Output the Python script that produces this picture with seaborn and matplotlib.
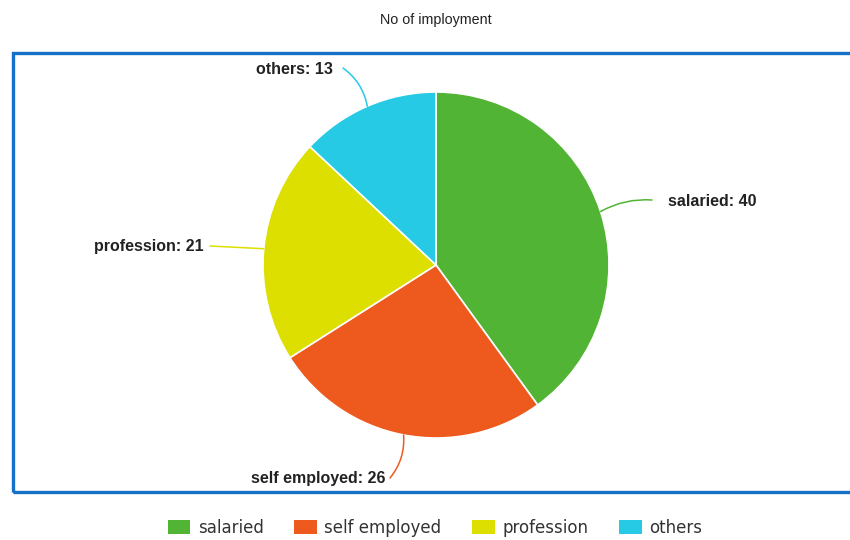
import matplotlib
matplotlib.use("Agg")
import matplotlib.pyplot as plt
from matplotlib.patches import Rectangle, Patch
import numpy as np
import seaborn as sns

# Employment categories and counts
categories = ["salaried", "self employed", "profession", "others"]
counts = [40, 26, 21, 13]
colors_hex = ["#52b435", "#ee5a1e", "#dddf00", "#26cae4"]

title = "No of imployment"

sns.set_theme(style="white")
plt.rcParams["font.family"] = ["Liberation Sans", "DejaVu Sans"]
palette = sns.color_palette(colors_hex)

W, H = 850, 540
fig = plt.figure(figsize=(W / 100, H / 100), dpi=100)
ax = fig.add_axes([0, 0, 1, 1])

# plot frame
frame = Rectangle((13.5, H - 491.5), 850, 438.5, fill=False,
                  edgecolor="#1570c6", linewidth=2.4, zorder=1)
ax.add_patch(frame)

cx, cy, r = 436, H - 265, 173
wedges, _ = ax.pie(counts, colors=palette, startangle=90, counterclock=False,
                   center=(cx, cy), radius=r, frame=True,
                   wedgeprops=dict(edgecolor="white", linewidth=1.2))
ax.set_xlim(0, W)
ax.set_ylim(0, H)
ax.set_aspect("equal")
ax.axis("off")

# label placement: (connector end dx, dy from center, text gap, side, curvature)
label_layout = [
    (216, 65, 16, "left", 0.15),
    (-46, -213, 4, "right", 0.2),
    (-226, 19, 6, "right", 0.0),
    (-93, 197, 10, "right", -0.2),
]

for w, cat, val, col, (ex, ey, gap, side, rad) in zip(wedges, categories, counts,
                                                       colors_hex, label_layout):
    ang = np.deg2rad((w.theta1 + w.theta2) / 2)
    px, py = cx + r * np.cos(ang), cy + r * np.sin(ang)
    qx, qy = cx + ex, cy + ey
    ax.annotate("", xy=(px, py), xytext=(qx, qy),
                arrowprops=dict(arrowstyle="-", color=col, lw=1.1,
                                connectionstyle=f"arc3,rad={rad}",
                                shrinkA=0, shrinkB=0))
    if side == "left":
        tx, ha = qx + gap, "left"
    else:
        tx, ha = qx - gap, "right"
    ax.text(tx, qy - 1, f"{cat}: {val}", ha=ha, va="center", fontsize=11.5,
            fontweight="bold", color="#222222")

fig.text(436 / W, 1 - 20 / H, title, ha="center", va="center",
         fontsize=10.3, color="#222222")

handles = [Patch(facecolor=c, edgecolor="none") for c in colors_hex]
leg = fig.legend(handles, categories, loc="center", bbox_to_anchor=(435 / W, 1 - 528 / H),
                 ncol=4, frameon=False, handlelength=1.35,
                 handleheight=0.95, handletextpad=0.45, columnspacing=1.85,
                 prop={"family": ["DejaVu Sans"], "size": 12})
for t in leg.get_texts():
    t.set_color("#333333")

fig.savefig("out.png", dpi=100)
